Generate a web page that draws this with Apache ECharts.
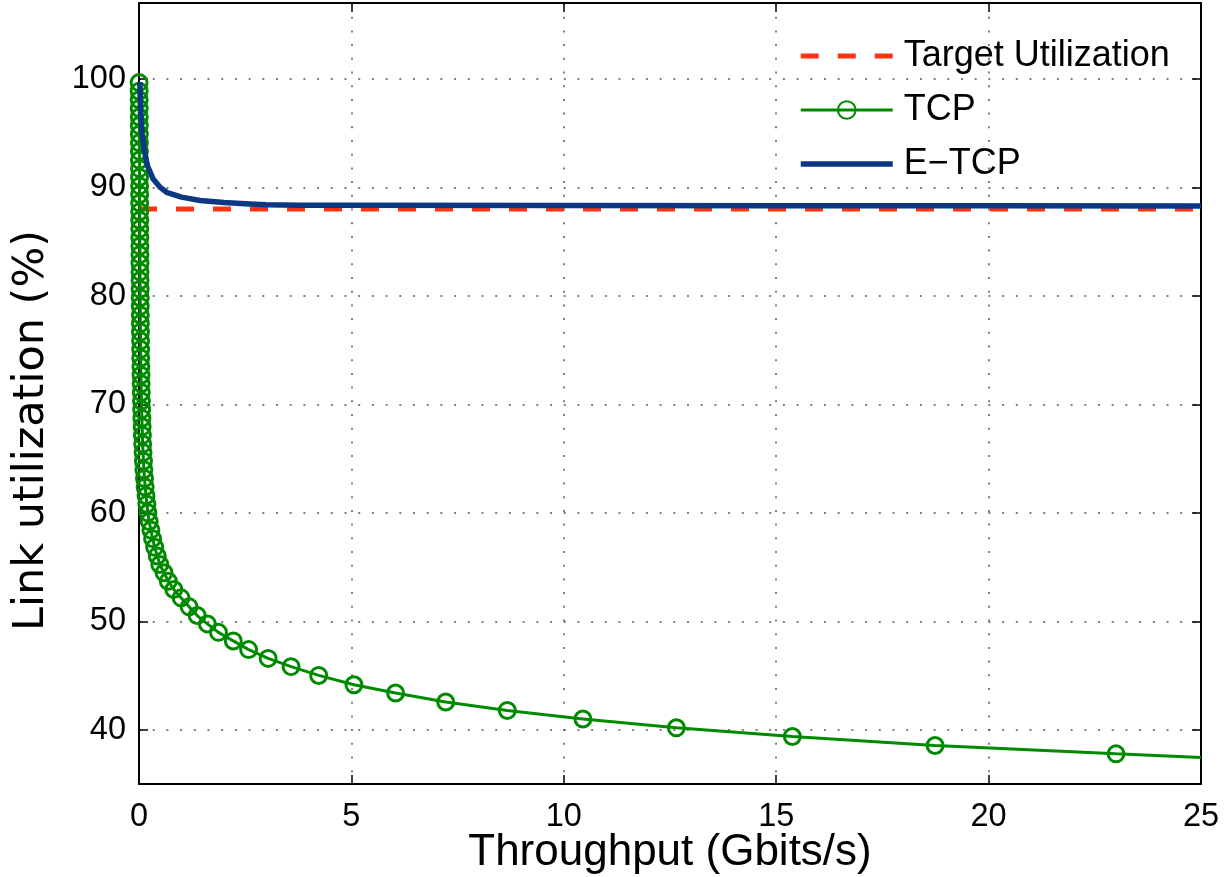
<!DOCTYPE html>
<html>
<head>
<meta charset="utf-8">
<script src="https://cdn.jsdelivr.net/npm/echarts@6/dist/echarts.min.js"></script>
<style>
  html, body { margin: 0; padding: 0; background: #fff; }
  #main { width: 1228px; height: 877px; }
</style>
</head>
<body>
<div id="main"></div>
<script>
// values
var targetLevel = 88;

// TCP markers, from the top of the curve down
var tcpX = [0.002, 0.003, 0.004, 0.005, 0.006, 0.007, 0.008, 0.009, 0.01, 0.011,
            0.012, 0.013, 0.014, 0.015, 0.016, 0.017, 0.018, 0.019, 0.02, 0.021,
            0.022, 0.023, 0.024, 0.025, 0.027, 0.028, 0.03, 0.031, 0.033, 0.035,
            0.037, 0.039, 0.041, 0.044, 0.047, 0.05, 0.054, 0.058, 0.063, 0.068,
            0.074, 0.08, 0.087, 0.095, 0.105, 0.115, 0.13, 0.145, 0.165, 0.185,
            0.21, 0.24, 0.28, 0.32, 0.37, 0.43, 0.49, 0.59, 0.69, 0.82,
            0.99, 1.18, 1.37, 1.61, 1.87, 2.22, 2.58, 3.04, 3.58, 4.23,
            5.06, 6.04, 7.22, 8.67, 10.45, 12.65, 15.38, 18.74, 23.0];
var tcpY = [99.66, 98.87, 98.08, 97.28, 96.49, 95.7, 94.9, 94.11, 93.32, 92.52,
            91.73, 90.94, 90.14, 89.35, 88.56, 87.76, 86.97, 86.18, 85.38, 84.59,
            83.8, 83.0, 82.21, 81.42, 80.62, 79.83, 79.04, 78.24, 77.45, 76.66,
            75.86, 75.07, 74.28, 73.48, 72.69, 71.9, 71.1, 70.31, 69.52, 68.72,
            67.93, 67.14, 66.34, 65.55, 64.76, 63.96, 63.17, 62.38, 61.58, 60.79,
            60.0, 59.2, 58.41, 57.62, 56.82, 56.03, 55.24, 54.47, 53.69, 52.93,
            52.16, 51.33, 50.53, 49.76, 48.98, 48.19, 47.39, 46.58, 45.82, 45.01,
            44.15, 43.39, 42.56, 41.78, 40.99, 40.18, 39.38, 38.55, 37.78];
// where the TCP line leaves the plot (no marker there)
var tcpEnd = [25, 37.44];

var etcpX = [0.02, 0.04, 0.07, 0.12, 0.2, 0.33, 0.5, 0.65, 1.0, 1.44,
             2.0, 2.6, 3.0, 3.8, 5, 10, 15, 20, 25];
var etcpY = [99.7, 97.0, 95.0, 93.5, 92.0, 90.8, 90.0, 89.55, 89.1, 88.8,
             88.6, 88.48, 88.4, 88.36, 88.35, 88.33, 88.31, 88.3, 88.29];

var xMin = 0, xMax = 25;
var yMin = 35, yMax = 107;

var fontFam = 'Liberation Sans, Arial, Helvetica, sans-serif';
var green = '#008a00';
var navy = '#0b3783';
var red = '#ff3311';
var dashPattern = [18, 19];

var tcpData = tcpX.map(function (x, i) { return [x, tcpY[i]]; });
tcpData.push({ value: tcpEnd, symbol: 'none' });
var etcpData = etcpX.map(function (x, i) { return [x, etcpY[i]]; });

var dotted = { color: '#555', width: 1.5, type: [2, 11.7] };
var frameLine = { show: true, onZero: false, lineStyle: { color: '#000', width: 2 } };
var frameTick = { show: true, inside: true, length: 9, lineStyle: { color: '#000', width: 1.5 } };

var myChart = echarts.init(document.getElementById('main'));
var option = {
    animation: false,
    backgroundColor: '#fff',
    textStyle: { fontFamily: fontFam, color: '#000' },
    grid: { left: 139, right: 27, top: 3, bottom: 93, containLabel: false, outerBoundsMode: 'none' },
    legend: {
        orient: 'vertical',
        left: 793,
        top: 33,
        itemWidth: 92,
        itemHeight: 22,
        itemGap: 18,
        textStyle: { fontSize: 36, lineHeight: 34, color: '#000', fontFamily: fontFam, padding: [0, 0, 0, 6] },
        data: [
            { name: 'Target Utilization', itemStyle: { opacity: 0 }, lineStyle: { width: 5, type: dashPattern, color: red } },
            { name: 'TCP', lineStyle: { width: 3, color: green } },
            { name: 'E\u2212TCP', itemStyle: { opacity: 0 }, lineStyle: { width: 5.5, color: navy } }
        ]
    },
    xAxis: [
        {
            type: 'value',
            min: xMin, max: xMax, interval: 5,
            name: 'Throughput (Gbits/s)',
            nameLocation: 'middle',
            nameGap: 47,
            nameMoveOverlap: false,
            nameTextStyle: { fontSize: 44, color: '#000', fontFamily: fontFam },
            axisLine: frameLine,
            axisTick: frameTick,
            axisLabel: { fontSize: 32.5, color: '#000', margin: 17, fontFamily: fontFam },
            splitLine: { show: true, lineStyle: dotted }
        },
        {
            type: 'value', position: 'top',
            min: xMin, max: xMax, interval: 5,
            axisLine: frameLine,
            axisTick: frameTick,
            axisLabel: { show: false },
            splitLine: { show: false }
        }
    ],
    yAxis: [
        {
            type: 'value',
            min: yMin, max: yMax, splitNumber: 7,
            name: 'Link utilization (%)',
            nameLocation: 'middle',
            nameGap: 86,
            nameMoveOverlap: false,
            nameTextStyle: {
                fontSize: 43, color: '#000', fontFamily: 'DejaVu Sans, sans-serif',
                padding: [0, 74, 0, 0]
            },
            axisLine: frameLine,
            axisTick: frameTick,
            axisLabel: {
                fontSize: 32.5, color: '#000', margin: 13, fontFamily: fontFam,
                formatter: function (v) { return v % 10 === 0 ? String(v) : ''; }
            },
            splitLine: { show: true, lineStyle: dotted }
        },
        {
            type: 'value', position: 'right',
            min: yMin, max: yMax, splitNumber: 7,
            axisLine: frameLine,
            axisTick: frameTick,
            axisLabel: { show: false },
            splitLine: { show: false }
        }
    ],
    series: [
        {
            name: 'Target Utilization',
            type: 'line',
            symbol: 'none',
            data: [[xMin, targetLevel], [xMax, targetLevel]],
            lineStyle: { color: red, width: 5, type: dashPattern },
            itemStyle: { color: red },
            z: 2
        },
        {
            name: 'TCP',
            type: 'line',
            symbol: 'circle',
            symbolSize: 16,
            clip: false,
            data: tcpData,
            lineStyle: { color: green, width: 3 },
            itemStyle: { color: 'transparent', borderColor: green, borderWidth: 3 },
            z: 3
        },
        {
            name: 'E\u2212TCP',
            type: 'line',
            symbol: 'none',
            data: etcpData,
            lineStyle: { color: navy, width: 5.5 },
            itemStyle: { color: navy },
            z: 4
        }
    ]
};
myChart.setOption(option);
</script>
</body>
</html>
